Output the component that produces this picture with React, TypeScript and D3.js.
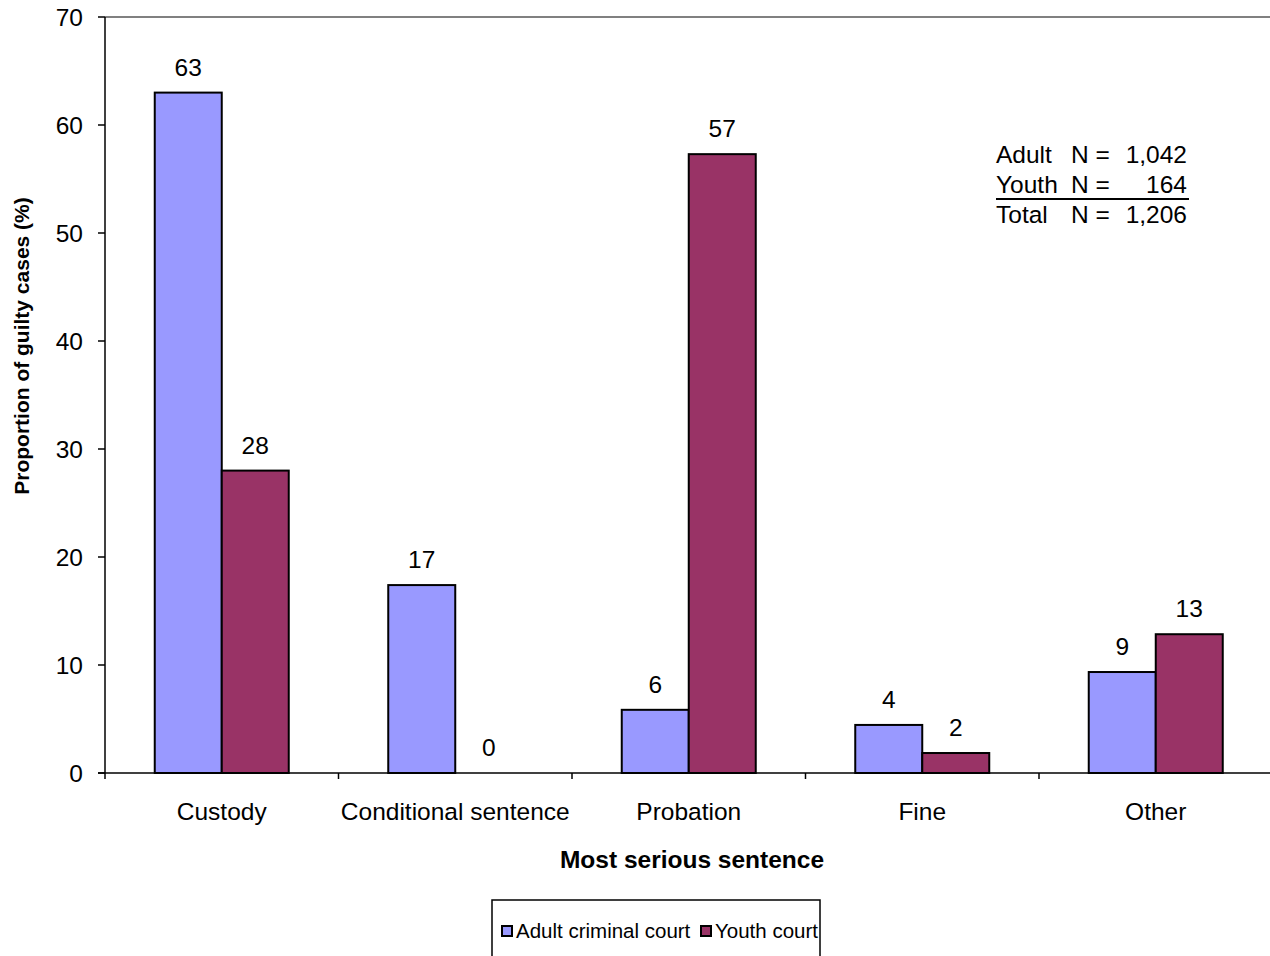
import React from "react";
import * as d3 from "d3";

// Most serious sentence by court type, percentage of guilty cases
const categories = ["Custody", "Conditional sentence", "Probation", "Fine", "Other"];
const seriesNames = ["Adult criminal court", "Youth court"];
const adultValues = [63.0, 17.4, 5.85, 4.45, 9.35];
const youthValues = [28.0, 0, 57.3, 1.85, 12.85];
const seriesColors = ["#9999FF", "#993366"];
const yTicks = [0, 10, 20, 30, 40, 50, 60, 70];
const noteLabels = ["Adult", "Youth", "Total"];
const noteCounts = ["1,042", "164", "1,206"];

const W = 1270;
const H = 956;
const FONT = "'Liberation Sans', Arial, sans-serif";

export default function App() {
  const left = 105;
  const right = 1272.5;
  const top = 17;
  const bottom = 773;

  const x = d3.scaleBand<string>().domain(categories).range([left, right]);
  const y = d3.scaleLinear().domain([0, 70]).range([bottom, top]);
  const barW = 67;
  const series = [adultValues, youthValues];
  const fs = 24.5;

  return (
    <div style={{ position: "absolute", left: 0, top: 0 }}>
      <svg width={W} height={H} style={{ display: "block", background: "#fff" }} fontFamily={FONT}>
        {/* plot frame top */}
        <line x1={left} x2={W} y1={top} y2={top} stroke="#808080" strokeWidth={2} />

        {/* bars */}
        {series.map((vals, si) =>
          categories.map((c, ci) => {
            const cx = (x(c) as number) + x.bandwidth() / 2;
            const bx = cx - barW + si * barW;
            const v = vals[ci];
            const by = y(v);
            return (
              <g key={`${si}-${ci}`}>
                {v > 0 && (
                  <rect
                    x={bx}
                    y={by}
                    width={barW}
                    height={bottom - by}
                    fill={seriesColors[si]}
                    stroke="#000"
                    strokeWidth={2}
                  />
                )}
                <text x={bx + barW / 2} y={by - 17} textAnchor="middle" fontSize={fs} fill="#000">
                  {Math.round(v)}
                </text>
              </g>
            );
          })
        )}

        {/* y axis */}
        <line x1={left} x2={left} y1={top} y2={bottom} stroke="#000" strokeWidth={1.5} />
        {yTicks.map((t) => (
          <g key={t}>
            <line x1={left - 7} x2={left} y1={y(t)} y2={y(t)} stroke="#000" strokeWidth={1.5} />
            <text x={83} y={y(t) + 8.5} textAnchor="end" fontSize={fs} fill="#000">
              {t}
            </text>
          </g>
        ))}

        {/* x axis */}
        <line x1={left - 7} x2={W} y1={bottom} y2={bottom} stroke="#000" strokeWidth={1.5} />
        {categories.map((c) => (
          <line
            key={c}
            x1={x(c) as number}
            x2={x(c) as number}
            y1={bottom}
            y2={bottom + 6}
            stroke="#000"
            strokeWidth={1.5}
          />
        ))}
        {categories.map((c) => (
          <text
            key={c}
            x={(x(c) as number) + x.bandwidth() / 2}
            y={820}
            textAnchor="middle"
            fontSize={fs}
            fill="#000"
          >
            {c}
          </text>
        ))}

        {/* axis titles */}
        <text x={692} y={868} textAnchor="middle" fontSize={fs} fontWeight="bold" fill="#000">
          Most serious sentence
        </text>
        <text
          transform={`translate(29, 346) rotate(-90)`}
          textAnchor="middle"
          fontSize={21}
          fontWeight="bold"
          fill="#000"
        >
          Proportion of guilty cases (%)
        </text>

        {/* sample size note */}
        {noteLabels.map((k, i) => {
          const yy = 163 + i * 30;
          return (
            <g key={k}>
              <text x={996} y={yy} fontSize={fs} fill="#000">
                {k}
              </text>
              <text x={1071} y={yy} fontSize={fs} fill="#000">
                N =
              </text>
              <text x={1187} y={yy} fontSize={fs} fill="#000" textAnchor="end">
                {noteCounts[i]}
              </text>
            </g>
          );
        })}
        <line x1={996} x2={1189} y1={199} y2={199} stroke="#000" strokeWidth={2} />

        {/* legend */}
        <rect x={492} y={900} width={328} height={70} fill="#fff" stroke="#000" strokeWidth={1.5} />
        {seriesNames.map((n, i) => {
          const lx = i === 0 ? 501 : 700;
          return (
            <g key={n}>
              <rect x={lx + 1} y={926} width={10} height={10} fill={seriesColors[i]} stroke="#000" strokeWidth={2} />
              <text x={lx + 15} y={938} fontSize={20.5} fill="#000">
                {n}
              </text>
            </g>
          );
        })}
      </svg>
    </div>
  );
}
